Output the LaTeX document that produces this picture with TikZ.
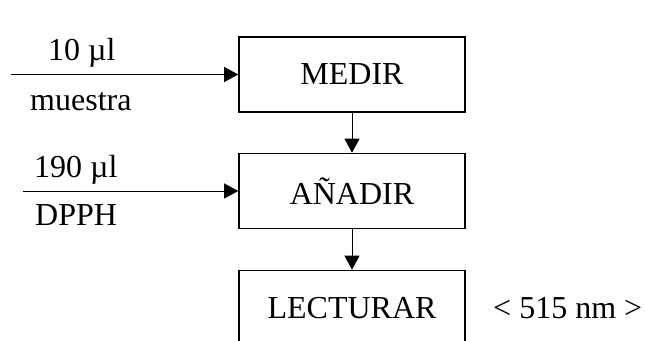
\documentclass[tikz,border=0pt]{standalone}
\usepackage{fontspec}
\setmainfont{Liberation Serif}
\usetikzlibrary{arrows.meta}
\begin{document}
\begin{tikzpicture}[x=1pt,y=1pt,
  stepbox/.style={draw, line width=1.6pt, minimum width=226pt, minimum height=75pt, inner sep=0pt, font=\fontsize{32}{38}\selectfont},
  lbl/.style={anchor=base west, inner sep=0pt, font=\fontsize{32}{38}\selectfont},
  arr/.style={line width=0.9pt, -{Triangle[length=14pt,width=15pt]}}
]
\useasboundingbox (0,0) rectangle (645,-340);
\clip (0,0) rectangle (645,-340);
\node[stepbox] (medir) at (352,-74.5) {MEDIR};
\node[stepbox] (anadir) at (352,-191) {AÑADIR};
\node[stepbox] (lect) at (352,-308) {LECTURAR};
\coordinate (in1) at (11,-74.5);
\coordinate (in2) at (23,-191);
\draw[arr] (in1) -- (medir.west);
\draw[arr] (in2) -- (anadir.west);
\draw[arr] (medir.south) -- (anadir.north);
\draw[arr] (anadir.south) -- (lect.north);
\node[lbl] (l1) at (48,-60) {10 µl};
\node[lbl] (l2) at (30,-110) {muestra};
\node[lbl] (l3) at (34,-177) {190 µl};
\node[lbl] (l4) at (35,-225) {DPPH};
\coordinate (nmx) at (493,0);
\node[lbl] (nm) at (nmx |- lect.base) {< 515 nm >};
\end{tikzpicture}
\end{document}
